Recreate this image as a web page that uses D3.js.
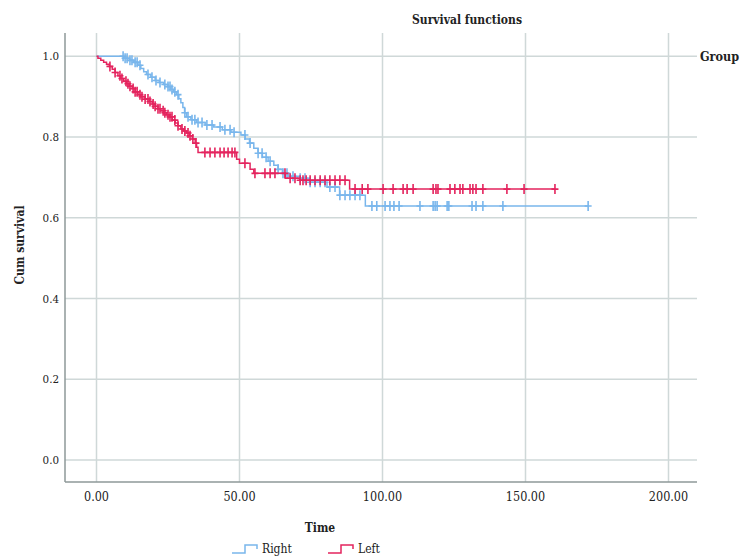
<!DOCTYPE html>
<html>
<head>
<meta charset="utf-8">
<script src="https://cdn.jsdelivr.net/npm/d3@7"></script>
<style>
  body { margin: 0; background: #fff; }
  svg { display: block; font-family: "DejaVu Serif Condensed", "DejaVu Serif", serif; }
</style>
</head>
<body>
<svg width="745" height="557"></svg>
<script>
// tick labels
const xTicks = [0, 50, 100, 150, 200];
const yTicks = [0, 0.2, 0.4, 0.6, 0.8, 1.0];

// Right group: step times and survival after each step
const rightTimes = [9.5, 11.5, 13, 14.5, 15.5, 16.5, 17.5, 19, 20.5, 22, 23.5, 25, 26, 27, 28, 28.8, 29.5, 30.2, 30.8, 31.5, 33, 35, 38, 41, 44, 47, 50.5, 52, 53.5, 55, 56.5, 58, 60, 62, 63.5, 65, 67, 71, 74.6, 80.6, 85, 94];
const rightSurv = [0.995, 0.99, 0.985, 0.978, 0.97, 0.962, 0.955, 0.948, 0.94, 0.935, 0.93, 0.925, 0.918, 0.912, 0.905, 0.895, 0.885, 0.873, 0.86, 0.85, 0.843, 0.836, 0.83, 0.825, 0.818, 0.812, 0.805, 0.795, 0.785, 0.772, 0.76, 0.75, 0.74, 0.73, 0.72, 0.71, 0.703, 0.698, 0.688, 0.676, 0.656, 0.629];
const rightEnd = 171.9;
const rightCensored = [9.3, 10.0, 10.7, 11.7, 12.4, 13.5, 14.2, 15.2, 18.0, 19.4, 20.8, 22.2, 23.9, 25.0, 25.7, 26.4, 27.4, 28.5, 30.9, 32.0, 33.4, 34.4, 35.5, 36.9, 38.6, 40.4, 43.2, 44.9, 46.7, 48.1, 51.9, 53.7, 56.5, 57.9, 59.3, 60.7, 63.5, 65.2, 66.6, 68.7, 71.2, 72.9, 74.7, 76.4, 78.2, 79.9, 81.6, 83.4, 85.1, 86.9, 88.6, 90.4, 92.1, 96.3, 98.0, 100.9, 102.6, 104.0, 105.8, 113.1, 117.7, 118.4, 119.1, 122.6, 123.2, 131.3, 132.7, 135.1, 142.1, 171.9];

// Left group
const leftTimes = [0.5, 1.5, 2.5, 3.5, 4.5, 5.5, 6.5, 7.5, 8.5, 9.5, 10.5, 11.5, 12.5, 13.5, 14.5, 15.5, 17, 18.5, 19.5, 20.5, 21.5, 22.5, 23.5, 24.5, 25.5, 26.5, 27.5, 28.5, 29.5, 30.5, 31.5, 32.5, 33.5, 34.5, 35, 35.5, 49, 50, 53.7, 55, 66, 71, 88.5];
const leftSurv = [0.995, 0.99, 0.985, 0.98, 0.975, 0.968, 0.96, 0.952, 0.945, 0.938, 0.932, 0.926, 0.92, 0.912, 0.905, 0.9, 0.894, 0.888, 0.882, 0.876, 0.87, 0.865, 0.86, 0.855, 0.85, 0.842, 0.835, 0.828, 0.82, 0.815, 0.81, 0.803, 0.795, 0.785, 0.775, 0.762, 0.745, 0.735, 0.72, 0.71, 0.698, 0.693, 0.671];
const leftEnd = 160.3;
const leftCensored = [4.7, 6.5, 8.2, 8.9, 10.3, 11.0, 11.7, 12.8, 13.5, 14.2, 15.2, 15.9, 17.0, 18.0, 18.7, 19.8, 20.5, 21.5, 22.2, 23.3, 23.9, 25.0, 25.7, 26.4, 27.4, 28.5, 29.9, 30.9, 32.0, 32.7, 33.7, 34.8, 37.9, 39.7, 41.4, 43.2, 44.6, 46.0, 47.4, 48.4, 51.9, 55.4, 58.9, 60.7, 62.4, 65.9, 67.7, 69.4, 71.2, 72.2, 73.3, 74.7, 76.4, 78.2, 79.9, 81.6, 83.4, 85.1, 86.9, 90.4, 92.9, 94.9, 100.2, 103.7, 107.2, 108.6, 110.7, 117.7, 118.7, 119.4, 123.6, 125.3, 127.1, 128.1, 130.6, 131.6, 132.7, 135.1, 143.5, 149.5, 160.3];

const groups = [
  { name: "Right", color: "#79b6ec", times: rightTimes, surv: rightSurv, end: rightEnd, cens: rightCensored },
  { name: "Left", color: "#e4245e", times: leftTimes, surv: leftSurv, end: leftEnd, cens: leftCensored }
];

const svg = d3.select("svg");
const plotL = 65, plotR = 697, plotT = 33, plotB = 482;

const x = d3.scaleLinear().domain([0, 200]).range([96.5, 668.5]);
const y = d3.scaleLinear().domain([0, 1]).range([460, 56.3]);

// grid
svg.append("g").selectAll("line").data(xTicks).enter().append("line")
  .attr("x1", d => x(d)).attr("x2", d => x(d))
  .attr("y1", plotT).attr("y2", plotB)
  .attr("stroke", "#cfd8d8").attr("stroke-width", 1.5);
svg.append("g").selectAll("line").data(yTicks).enter().append("line")
  .attr("x1", plotL).attr("x2", plotR)
  .attr("y1", d => y(d)).attr("y2", d => y(d))
  .attr("stroke", "#cfd8d8").attr("stroke-width", 1.5);

// axes lines
svg.append("line").attr("x1", plotL).attr("x2", plotL).attr("y1", plotT).attr("y2", plotB)
  .attr("stroke", "#8e9999").attr("stroke-width", 1.5);
svg.append("line").attr("x1", plotL).attr("x2", plotR).attr("y1", plotB).attr("y2", plotB)
  .attr("stroke", "#8e9999").attr("stroke-width", 1.5);

// tick labels
svg.append("g").selectAll("text").data(yTicks).enter().append("text")
  .attr("x", 59).attr("y", d => y(d)).attr("dy", "0.35em")
  .attr("text-anchor", "end").attr("font-size", 11.5).attr("fill", "#222")
  .text(d3.format(".1f"));
svg.append("g").selectAll("text").data(xTicks).enter().append("text")
  .attr("x", d => x(d)).attr("y", 497).attr("dy", "0.35em")
  .attr("text-anchor", "middle").attr("font-size", 12.5).attr("fill", "#222")
  .text(d3.format(".2f"));

// titles
svg.append("text").attr("x", 467).attr("y", 24).attr("text-anchor", "middle")
  .attr("font-size", 12).attr("font-weight", "bold").attr("fill", "#222").text("Survival functions");
svg.append("text").attr("x", 700).attr("y", 56.3).attr("dy", "0.35em")
  .attr("font-size", 12.5).attr("font-weight", "bold").attr("fill", "#222").text("Group");
svg.append("text").attr("x", 320).attr("y", 528).attr("dy", "0.35em").attr("text-anchor", "middle")
  .attr("font-size", 12).attr("font-weight", "bold").attr("fill", "#222").text("Time");
svg.append("text").attr("transform", "translate(24,245) rotate(-90)").attr("text-anchor", "middle")
  .attr("font-size", 12).attr("font-weight", "bold").attr("fill", "#222").text("Cum survival");

// curves
const line = d3.line().x(d => x(d[0])).y(d => y(d[1])).curve(d3.curveStepAfter);
function survAt(g, t) {
  let s = 1;
  g.times.forEach((tt, i) => { if (tt <= t) s = g.surv[i]; });
  return s;
}

groups.forEach(g => {
  const pts = [[0, 1]].concat(g.times.map((t, i) => [t, g.surv[i]]));
  pts.push([g.end, g.surv[g.surv.length - 1]]);
  const grp = svg.append("g");
  grp.append("path").attr("d", line(pts)).attr("fill", "none")
    .attr("stroke", g.color).attr("stroke-width", 1.5);
  grp.selectAll("path.c").data(g.cens).enter().append("path").attr("class", "c")
    .attr("d", t => {
      const cx = x(t), cy = y(survAt(g, t));
      return `M${cx - 3.5},${cy}H${cx + 3.5}M${cx},${cy - 5}V${cy + 5}`;
    })
    .attr("stroke", g.color).attr("stroke-width", 1.6).attr("fill", "none");
});

// legend
const legendX = [232, 328];
groups.forEach((g, i) => {
  const lx = legendX[i], ly = 549;
  svg.append("path")
    .attr("d", `M${lx},${ly + 4}H${lx + 13}V${ly - 4}H${lx + 25}V${ly}`)
    .attr("fill", "none").attr("stroke", g.color).attr("stroke-width", 1.5);
  svg.append("text").attr("x", lx + 30).attr("y", ly).attr("dy", "0.35em")
    .attr("font-size", 12).attr("fill", "#222").text(g.name);
});
</script>
</body>
</html>
